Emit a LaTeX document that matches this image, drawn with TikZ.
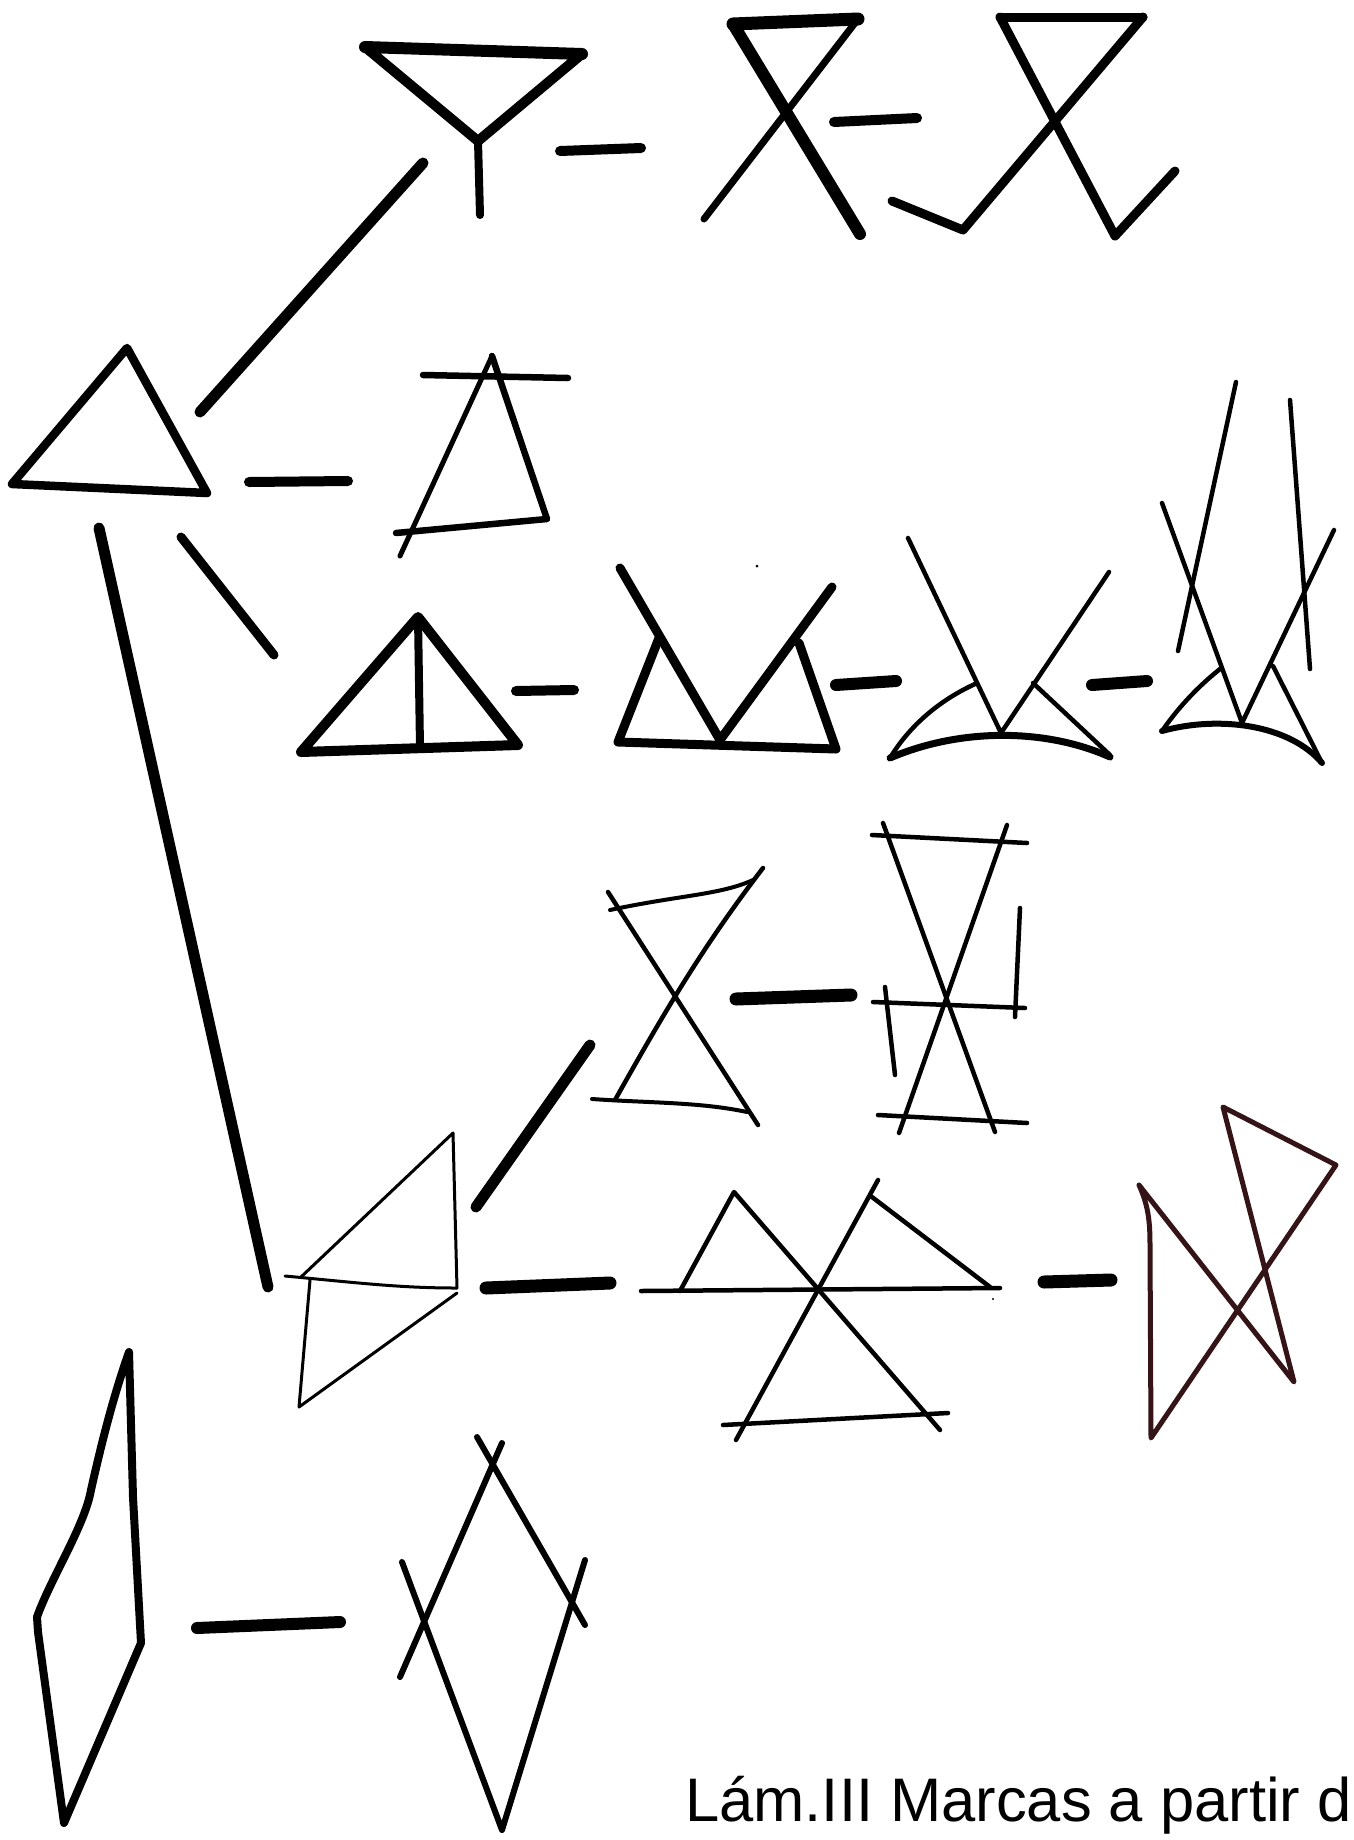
\documentclass[tikz,border=0pt]{standalone}
\usepackage{fontspec}
\setmainfont{Liberation Sans}
\definecolor{inkbrown}{RGB}{52,20,22}
\begin{document}
\begin{tikzpicture}[x=1pt,y=-1pt,line cap=round,line join=round,
  heavy/.style={line width=11pt},
  bold/.style={line width=9pt},
  medium/.style={line width=6.5pt},
  fine/.style={line width=4.5pt},
  hair/.style={line width=3pt}]
\useasboundingbox[fill=white] (0,0) rectangle (1353,1840);

% ---- first column: plain triangle
\draw[line width=8.5pt] (127,348) -- (12,484) -- (207,493) -- cycle;
% connectors from the triangle
\draw[heavy] (200,412) -- (423,163);
\draw[line width=10pt] (249,482) -- (348,481);
\draw[bold] (181,537) -- (274,655);
\draw[heavy] (99,528) -- (268,1287);

% ---- top row: Y mark
\draw[line width=12pt] (365,47) -- (582,54);
\draw[line width=10pt] (365,47) -- (478,141) -- (582,54);
\draw[line width=8pt] (478,141) -- (480,215);
\draw[line width=10pt] (560,151) -- (641,148);
% X mark with thick stroke
\draw[line width=13pt] (733,24) -- (858,19);
\draw[line width=12pt] (733,24) -- (860,234);
\draw[line width=7pt] (858,19) -- (704,219);
\draw[line width=10pt] (834,122) -- (917,118);
% X mark with hooks
\draw[bold] (1000,17) -- (1143,17);
\draw[bold] (1000,17) -- (1115,236) -- (1175,171);
\draw[bold] (1143,17) -- (963,230) -- (892,201);

% ---- second row: triangle with bar
\draw[medium] (423,375) -- (568,378);
\draw[medium] (492,356) -- (547,519) -- (396,533);
\draw[line width=5pt] (492,356) -- (400,556);

% ---- third row
\draw[line width=10pt] (418,617) -- (301,752) -- (518,745) -- cycle;
\draw[line width=8pt] (418,617) -- (420,747);
\draw[line width=10pt] (516,691) -- (574,690);
% M mark
\draw[bold] (620,568) -- (720,740) -- (832,587);
\draw[bold] (659,638) -- (618,742) -- (836,749) -- (799,643);
\fill (757,566) circle (1.5);
\draw[line width=12pt] (836,685) -- (896,681);
% curved mark 1
\draw[fine] (908,538) -- (1001,733) -- (1109,572);
\draw[line width=7pt] (890,758) .. controls (960,728) and (1045,728) .. (1110,757);
\draw[fine] (890,758) .. controls (910,725) and (940,700) .. (975,684);
\draw[fine] (1033,683) -- (1110,755);
\draw[line width=12pt] (1092,685) -- (1147,681);
% curved mark 2
\draw[fine] (1236,382) -- (1178,651);
\draw[fine] (1290,400) -- (1310,669);
\draw[fine] (1162,503) -- (1242,723) -- (1334,530);
\draw[line width=6pt] (1162,731) .. controls (1220,715) and (1290,725) .. (1322,763);
\draw[fine] (1162,731) .. controls (1180,705) and (1200,685) .. (1220,669);
\draw[fine] (1273,666) -- (1322,763);

% ---- fourth row: hourglass marks
\draw[fine] (608,892) -- (758,1125);
\draw[fine] (763,868) .. controls (700,950) and (660,1020) .. (615,1100);
\draw[line width=4pt] (610,910) .. controls (680,895) and (720,895) .. (753,880);
\draw[line width=4pt] (592,1099) .. controls (650,1103) and (700,1102) .. (747,1112);
\draw[line width=13pt] (736,999) -- (851,995);
\draw[fine] (872,835) -- (1027,843);
\draw[fine] (883,823) -- (995,1132);
\draw[fine] (1007,825) -- (899,1133);
\draw[fine] (873,1002) -- (1025,1008);
\draw[fine] (885,987) -- (895,1075);
\draw[fine] (1020,908) -- (1015,1017);
\draw[fine] (878,1115) -- (1027,1123);
\draw[heavy] (476,1207) -- (590,1045);

% ---- fifth row
\draw[hair] (301,1277) -- (453,1133) -- (457,1288);
\draw[hair] (285,1276) .. controls (360,1283) and (400,1288) .. (457,1288);
\draw[hair] (310,1280) -- (299,1407) -- (457,1293);
\draw[line width=13pt] (486,1288) -- (610,1283);
% star-like mark
\draw[fine] (641,1291) -- (1000,1288);
\draw[fine] (680,1291) -- (734,1192) -- (940,1430);
\draw[fine] (878,1180) -- (736,1440);
\draw[fine] (872,1197) -- (990,1287);
\draw[fine] (723,1425) -- (948,1413);
\fill (993,1299) circle (1.2);
\draw[line width=13pt] (1044,1282) -- (1111,1280);
% brown mark
\draw[inkbrown,line width=5pt] (1139,1185) .. controls (1148,1205) and (1150,1220) .. (1150,1245)
  -- (1151,1438) -- (1336,1165) -- (1223,1107) -- (1294,1382) -- cycle;

% ---- sixth row
\draw[line width=8pt] (129,1352) .. controls (112,1400) and (100,1450) .. (91,1490)
  .. controls (85,1525) and (50,1580) .. (37,1617) -- (38,1632) -- (64,1823)
  -- (141,1643) -- (133,1497) -- cycle;
\draw[line width=12pt] (197,1628) -- (340,1622);
\draw[line width=6pt] (477,1437) -- (585,1625);
\draw[line width=6pt] (502,1443) -- (400,1677);
\draw[line width=6pt] (402,1562) -- (502,1830) -- (585,1560);

% ---- caption
\node[anchor=base west,inner sep=0pt] (caption) at (685,1821)
  {\fontsize{61.5}{70}\selectfont Lám.III Marcas a partir d};
\end{tikzpicture}
\end{document}
